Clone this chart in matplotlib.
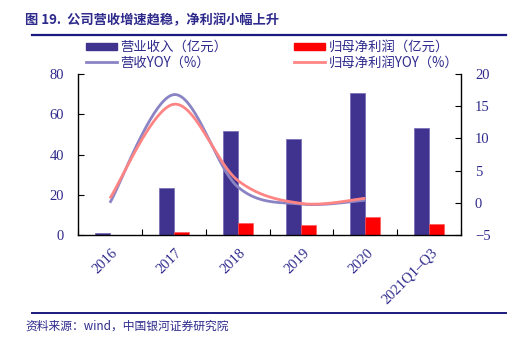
import numpy as np
import matplotlib
matplotlib.use("Agg")
import matplotlib.pyplot as plt
from matplotlib.lines import Line2D
from matplotlib.patches import Patch

plt.rcParams['font.family'] = ['Noto Sans CJK SC', 'DejaVu Sans']

categories = ["2016", "2017", "2018", "2019", "2020", "2021Q1–Q3"]
revenue = [1.1, 23.5, 51.7, 47.5, 70.5, 53.2]          # 营业收入（亿元）
net_profit = [0.0, 1.5, 6.1, 5.0, 8.7, 5.5]            # 归母净利润（亿元）
revenue_yoy = [0.0, 16.8, 2.5, -0.2, 0.4]              # 营收YOY（%）
profit_yoy = [0.7, 15.3, 3.5, -0.1, 0.7]               # 归母净利润YOY（%）

NAVY = '#2e2a8c'
BAR1 = '#40338f'
BAR2 = '#ff0000'
LINE1 = '#8a84c4'
LINE2 = '#ff8585'


def smooth(xs, ys, n=40):
    xs = np.asarray(xs, float)
    ys = np.asarray(ys, float)
    px = np.concatenate([[xs[0]], xs, [xs[-1]]])
    py = np.concatenate([[ys[0]], ys, [ys[-1]]])
    ox, oy = [], []
    for i in range(1, len(px) - 2):
        p0, p1, p2, p3 = [np.array([px[j], py[j]]) for j in (i - 1, i, i + 1, i + 2)]
        c1 = p1 + (p2 - p0) / 6.0
        c2 = p2 - (p3 - p1) / 6.0
        t = np.linspace(0, 1, n)[:, None]
        pts = ((1 - t) ** 3) * p1 + 3 * ((1 - t) ** 2) * t * c1 + 3 * (1 - t) * t ** 2 * c2 + t ** 3 * p2
        ox.extend(pts[:, 0]); oy.extend(pts[:, 1])
    return np.array(ox), np.array(oy)


W, H = 516, 353
fig = plt.figure(figsize=(W / 100, H / 100), dpi=100)
ax = fig.add_axes([78 / W, 1 - 235 / H, (461 - 78) / W, (235 - 74) / H])
ax2 = ax.twinx()

x = np.arange(len(categories))
bw = 0.235
ax.bar(x - bw / 2, revenue, bw, color=BAR1, edgecolor='#7a70b8', linewidth=0.6, zorder=2)
ax.bar(x + bw / 2, net_profit, bw, color=BAR2, edgecolor='#ff5050', linewidth=0.4, zorder=2)

sx, sy = smooth(x[:len(revenue_yoy)], revenue_yoy)
ax2.plot(sx, sy, color=LINE1, lw=2.0, zorder=3, solid_capstyle='butt')
sx, sy = smooth(x[:len(profit_yoy)], profit_yoy)
ax2.plot(sx, sy, color=LINE2, lw=2.0, zorder=3, solid_capstyle='butt')

ax.set_xlim(-0.5, len(categories) - 0.5)
ax.set_ylim(0, 80)
ax.set_yticks([0, 20, 40, 60, 80])
ax2.set_ylim(-5, 20)
ax2.set_yticks([-5, 0, 5, 10, 15, 20])

for a in (ax, ax2):
    a.spines['top'].set_visible(False)
    for s in a.spines.values():
        s.set_color('black')
        s.set_linewidth(1.0)
ax.spines['right'].set_visible(False)
ax2.spines['left'].set_visible(False)
ax2.spines['bottom'].set_visible(False)

ax.tick_params(axis='y', direction='in', length=4, colors='black', labelcolor=NAVY, pad=10)
ax2.tick_params(axis='y', direction='in', length=4, colors='black', labelcolor=NAVY, pad=10)
for lab in ax.get_yticklabels():
    lab.set_fontfamily('Liberation Serif'); lab.set_fontsize(10.5)
ax2.set_yticklabels(['−5', '0', '5', '10', '15', '20'])
for lab in ax2.get_yticklabels():
    lab.set_fontfamily('Liberation Serif'); lab.set_fontsize(10.5)

ax.set_xticks(np.arange(-0.5, len(categories), 1.0))
ax.set_xticklabels([])
ax.tick_params(axis='x', direction='in', length=4, colors='black')
for i, c in enumerate(categories):
    ax.text(i + 0.02, -0.07, c, transform=ax.get_xaxis_transform(), rotation=45,
            ha='right', va='top', rotation_mode='anchor', color=NAVY,
            fontfamily='Liberation Serif', fontsize=10.5)

handles = [Patch(facecolor=BAR1, edgecolor=BAR1),
           Line2D([], [], color=LINE1, lw=2.0),
           Patch(facecolor=BAR2, edgecolor=BAR2),
           Line2D([], [], color=LINE2, lw=2.0)]
labels = ['营业收入（亿元）', '营收YOY（%）', '归母净利润（亿元）', '归母净利润YOY（%）']
leg = fig.legend(handles, labels, ncol=2, loc='upper left', bbox_to_anchor=(86 / W, 1 - 40 / H),
                 frameon=False, fontsize=9.6, handlelength=2.3, handleheight=0.4,
                 handletextpad=0.3, columnspacing=5.0, labelspacing=0.1, borderpad=0,
                 borderaxespad=0)
for t in leg.get_texts():
    t.set_color(NAVY)

fig.text(25 / W, 1 - 20 / H, '图 19.  公司营收增速趋稳，净利润小幅上升', ha='left', va='center',
         fontsize=9.5, fontweight='bold', color=NAVY)
fig.add_artist(Line2D([32 / W, 506 / W], [1 - 35 / H, 1 - 35 / H], color='#1a1a80', lw=1.6))
fig.add_artist(Line2D([32 / W, 506 / W], [1 - 312.5 / H, 1 - 312.5 / H], color='#1a1a80', lw=1.4))
fig.text(25 / W, 1 - 326 / H, '资料来源：wind，中国银河证券研究院', ha='left', va='center',
         fontsize=8.5, style='italic', color=NAVY)

fig.savefig('out.png', dpi=100)
